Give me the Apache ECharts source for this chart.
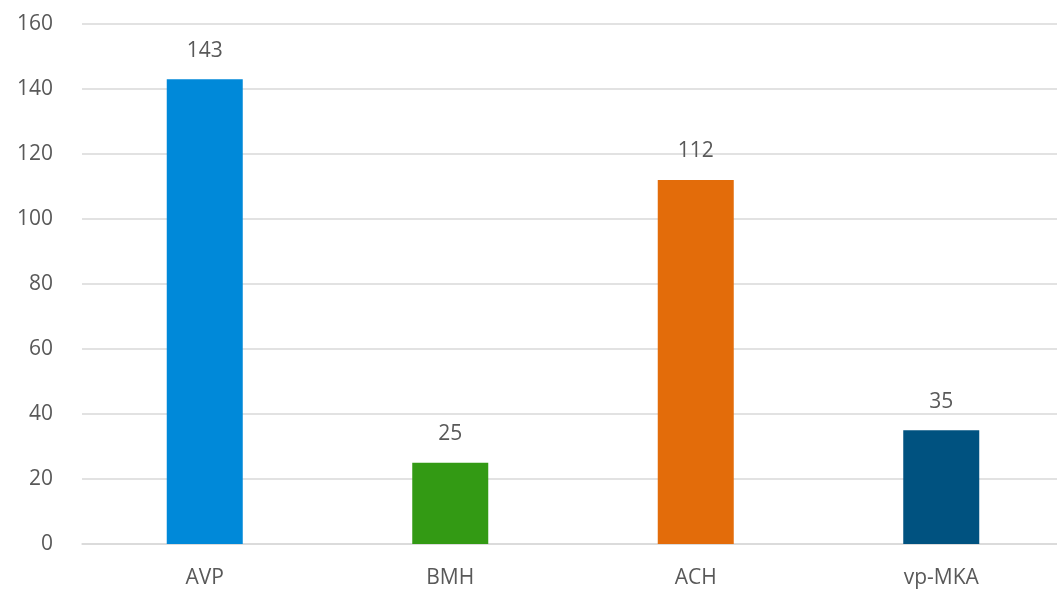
<!DOCTYPE html>
<html><head><meta charset="utf-8">
<script src="https://cdn.jsdelivr.net/npm/echarts@6/dist/echarts.min.js"></script>
<style>html,body{margin:0;padding:0;background:#fff}#c{width:1057px;height:595px}</style>
</head><body><div id="c"></div>
<script>
const categories = ['AVP', 'BMH', 'ACH', 'vp-MKA'];
const values = [143, 25, 112, 35];
const colors = ['#0089D9', '#339A14', '#E36C0A', '#005280'];
const yTicks = [0, 20, 40, 60, 80, 100, 120, 140, 160];

const chart = echarts.init(document.getElementById('c'), null, {renderer: 'canvas'});
const font = '"Open Sans", "Noto Sans", sans-serif';
chart.setOption({
  animation: false,
  grid: {left: 82, width: 982, top: 24, bottom: 51, containLabel: false, outerBoundsMode: 'none'},
  xAxis: {
    type: 'category', data: categories,
    axisLine: {lineStyle: {color: '#d9d9d9', width: 1.5}},
    axisTick: {show: false},
    axisLabel: {color: '#595959', fontSize: 21, fontFamily: font, margin: 24}
  },
  yAxis: {
    type: 'value', min: yTicks[0], max: yTicks[yTicks.length - 1], interval: 20,
    axisLine: {show: false}, axisTick: {show: false},
    splitLine: {lineStyle: {color: '#d9d9d9', width: 1.5}},
    axisLabel: {color: '#595959', fontSize: 21, fontFamily: font, margin: 29}
  },
  series: [{
    type: 'bar', barWidth: 76,
    data: values.map((v, i) => ({value: v, itemStyle: {color: colors[i]}})),
    label: {show: true, position: 'top', distance: 18, color: '#595959', fontSize: 21, fontFamily: font}
  }]
});
</script></body></html>
